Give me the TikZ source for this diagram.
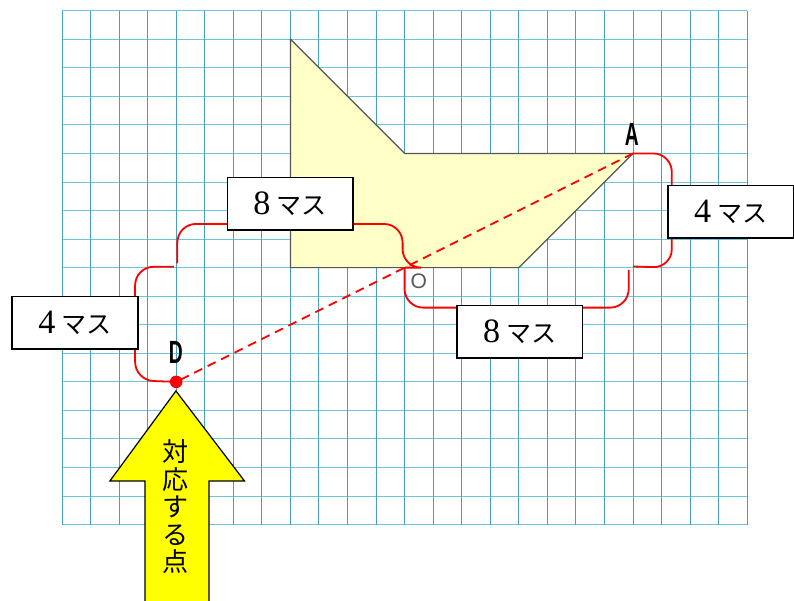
\documentclass[tikz,border=0pt]{standalone}
\usepackage{fontspec}
\newfontfamily\jp{Noto Sans CJK JP}
\newfontfamily\serifnum{Liberation Serif}
\newfontfamily\lab{Liberation Sans}
\definecolor{gridv}{RGB}{70,160,192}
\definecolor{gridh}{RGB}{105,200,220}
\definecolor{shapefill}{RGB}{255,255,200}
\definecolor{shapeline}{RGB}{85,85,85}
\definecolor{arrowyellow}{RGB}{255,255,0}
\tikzset{
  bracket/.style={red, line width=1.8pt, rounded corners=0.65cm},
  masubox/.style={draw=black, fill=white, line width=1.5pt, minimum width=4.4cm, minimum height=1.84cm, inner sep=0pt},
  ptlabel/.style={inner sep=0pt, font=\lab\bfseries\fontsize{32}{32}\selectfont}
}
\newcommand{\masu}[1]{{\serifnum\fontsize{34}{34}\selectfont #1}\hspace{6pt}{\jp\fontsize{25}{25}\selectfont マス}}
\begin{document}
\begin{tikzpicture}[x=1cm,y=1cm]
\useasboundingbox (-2.172,-2.676) rectangle (25.64,18.375);
% grid
\foreach \i in {0,...,18} \draw[gridh, line width=0.95pt] (0,\i) -- (24,\i);
\foreach \i in {0,...,24} \draw[gridv, line width=0.95pt] (\i,0) -- (\i,18);
% shape
\draw[fill=shapefill, draw=shapeline, line width=1.2pt] (8,17) -- (12,13) -- (20,13) -- (16,9) -- (8,9) -- cycle;
% points
\coordinate (A) at (20,13);
\coordinate (O) at (12,9);
\coordinate (D) at (4,5);
% brackets
\draw[bracket] (A) -- (21.36,13) -- (21.36,9) -- (20,9.04);
\draw[bracket] (O) -- (12,7.60) -- (19.85,7.60) -- (19.85,8.92);
\draw[bracket] (4.04,9.15) -- (4.04,10.53) -- (11.93,10.53) -- (11.93,9) -- (O);
\draw[bracket] (3.92,9.03) -- (2.56,9.03) -- (2.56,5.05) -- (D);
% dashed line
\draw[red, line width=1.7pt, dash pattern=on 9pt off 6pt] (A) -- (D);
\fill[red] (D) circle (0.22);
% boxes
\node[masubox] (b1) at (23.42,10.95) {\masu{4}};
\node[masubox] (b2) at (16.03,6.75) {\masu{8}};
\node[masubox] (b3) at (7.99,11.24) {\masu{8}};
\node[masubox] (b4) at (0.455,7.065) {\masu{4}};
% labels
\node[ptlabel] (la) at (19.96,13.66) {\scalebox{0.6}[1]{A}};
\node[ptlabel] (ld) at (3.99,6.03) {\scalebox{0.6}[1]{D}};
\node[inner sep=0pt, text=black!65, font=\lab\fontsize{21}{21}\selectfont] (lo) at (12.5,8.51) {O};
% arrow
\draw[fill=arrowyellow, draw=black, line width=1.2pt]
  (2.91,-2.676) -- (2.91,1.53) -- (1.68,1.53) -- (3.99,4.68) -- (6.39,1.53) -- (5.15,1.53) -- (5.15,-2.676);
\node[align=center, inner sep=0pt, font=\jp\fontsize{26}{27.4}\selectfont] (arrowtext) at (3.99,0.62) {対\\応\\す\\る\\点};
\end{tikzpicture}
\end{document}
